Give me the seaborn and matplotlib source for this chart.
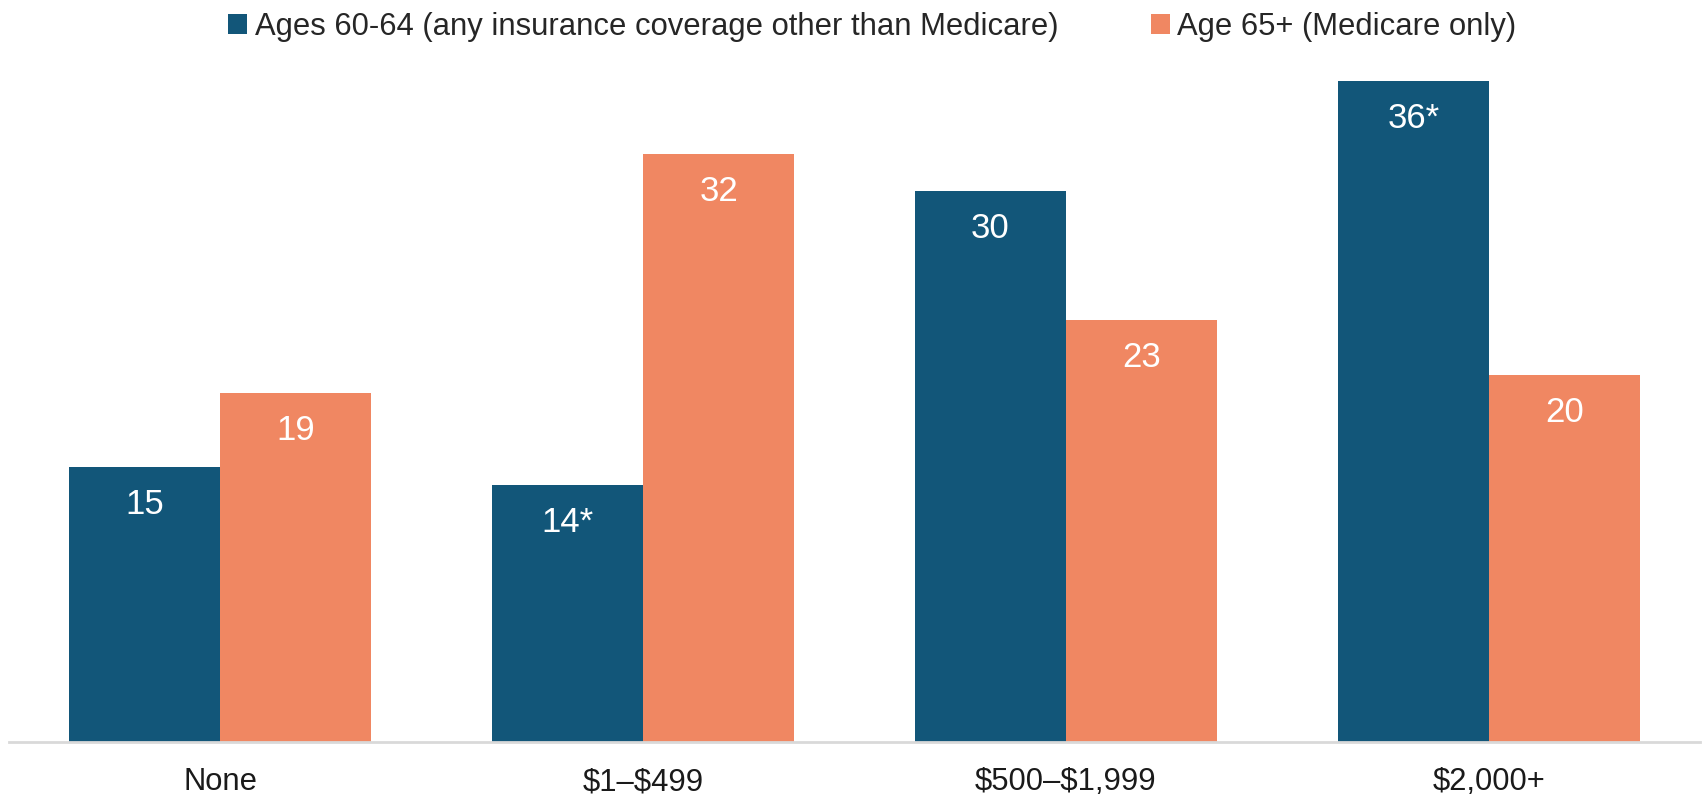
import matplotlib
matplotlib.use("Agg")
import matplotlib.pyplot as plt
import seaborn as sns
import pandas as pd

categories = ["None", "\\$1\u2013\\$499", "\\$500\u2013\\$1,999", "\\$2,000+"]
series_names = ["Ages 60-64 (any insurance coverage other than Medicare)",
                "Age 65+ (Medicare only)"]
ages_60_64 = [15, 14, 30, 36]
age_65_plus = [19, 32, 23, 20]
labels_60_64 = ["15", "14*", "30", "36*"]
labels_65_plus = ["19", "32", "23", "20"]

colors = ["#125679", "#F08762"]

df = pd.DataFrame({
    "category": categories * 2,
    "group": [series_names[0]] * 4 + [series_names[1]] * 4,
    "value": ages_60_64 + age_65_plus,
})

sns.set_style("white")
plt.rcParams["font.family"] = ["Liberation Sans", "DejaVu Sans"]

fig = plt.figure(figsize=(17.04, 7.99), dpi=100)
ax = fig.add_axes([0.0053, 0.0713, 0.9924, 0.855])

sns.barplot(data=df, x="category", y="value", hue="group", order=categories,
            hue_order=series_names, palette=colors, width=0.714, gap=0,
            saturation=1, linewidth=0, ax=ax)

# value labels inside the top of each bar
for container, labs in zip(ax.containers, [labels_60_64, labels_65_plus]):
    for bar, lab in zip(container, labs):
        ax.annotate(lab, (bar.get_x() + bar.get_width() / 2, bar.get_height()),
                    xytext=(0, -27), textcoords="offset points",
                    ha="center", va="center", color="white", fontsize=25)

ax.set_xlim(-0.5, 3.5)
ax.set_ylim(0, 37.2)
ax.set_xlabel("")
ax.set_ylabel("")
ax.set_yticks([])
ax.tick_params(axis="x", length=0, pad=18, labelsize=22.3, colors="#1a1a1a")
for side in ["top", "right", "left"]:
    ax.spines[side].set_visible(False)
ax.spines["bottom"].set_color("#D9D9D9")
ax.spines["bottom"].set_linewidth(2)

handles, lbls = ax.get_legend_handles_labels()
ax.legend(handles, lbls, loc="center", bbox_to_anchor=(0.512, 0.966),
          bbox_transform=fig.transFigure, ncol=2, frameon=False, fontsize=22.3,
          handlelength=0.6, handleheight=0.6, handletextpad=0.25,
          columnspacing=3.0, borderaxespad=0)

fig.savefig("out.png", dpi=100)
